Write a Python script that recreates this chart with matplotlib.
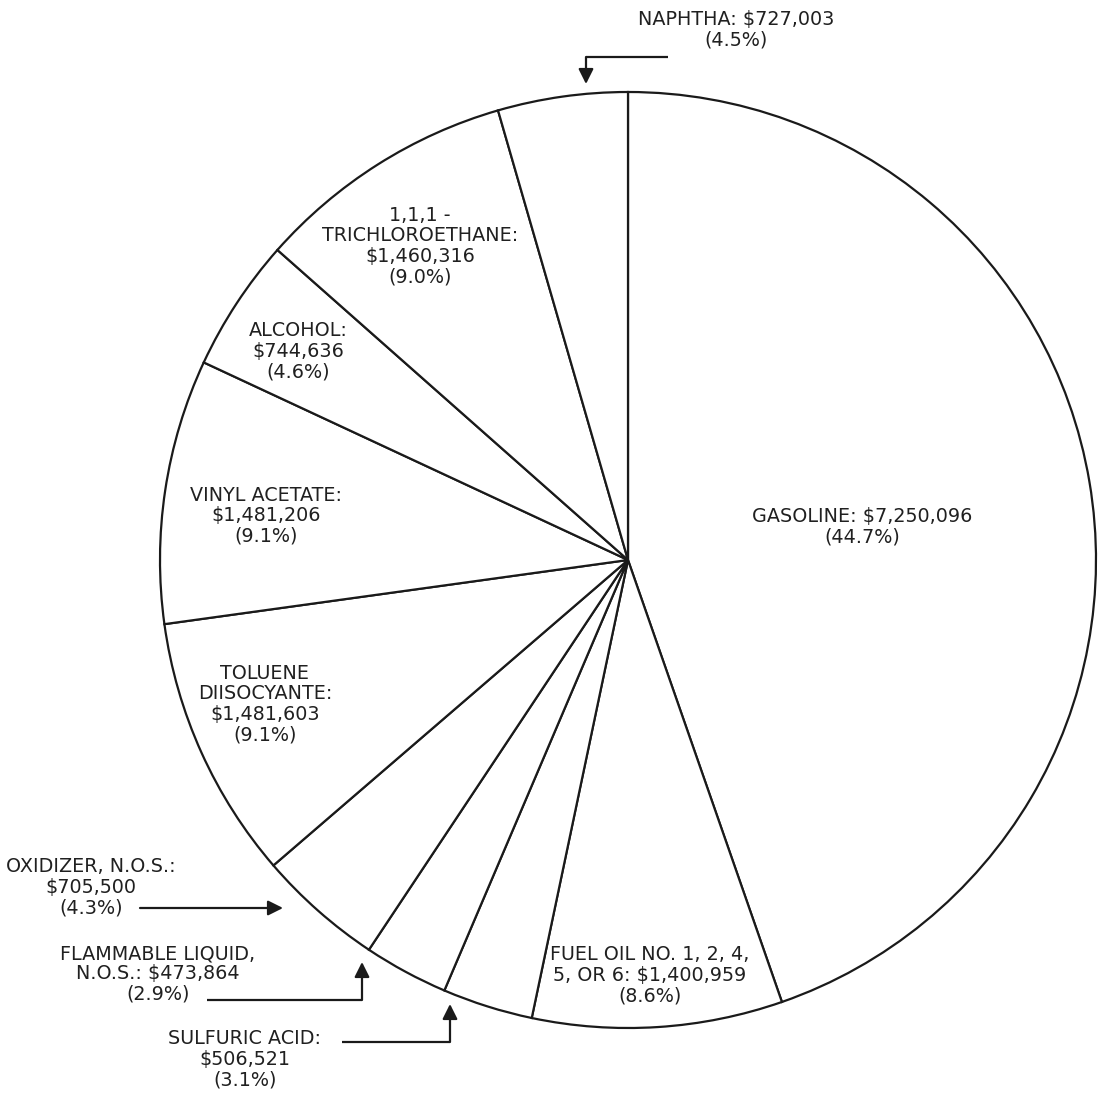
import numpy as np
import matplotlib
matplotlib.use("Agg")
import matplotlib.pyplot as plt

# hazardous material categories, clockwise from the top
names = ["GASOLINE", "FUEL OIL", "SULFURIC ACID", "FLAMMABLE LIQUID", "OXIDIZER",
         "TOLUENE DIISOCYANTE", "VINYL ACETATE", "ALCOHOL",
         "1,1,1 - TRICHLOROETHANE", "NAPHTHA"]
values = [7250096, 1400959, 506521, 473864, 705500,
          1481603, 1481206, 744636, 1460316, 727003]
pcts = ["44.7%", "8.6%", "3.1%", "2.9%", "4.3%", "9.1%", "9.1%", "4.6%", "9.0%", "4.5%"]
templates = ["GASOLINE: {v}\n({p})",
             "FUEL OIL NO. 1, 2, 4,\n5, OR 6: {v}\n({p})",
             "SULFURIC ACID:\n{v}\n({p})",
             "FLAMMABLE LIQUID,\nN.O.S.: {v}\n({p})",
             "OXIDIZER, N.O.S.:\n{v}\n({p})",
             "TOLUENE\nDIISOCYANTE:\n{v}\n({p})",
             "VINYL ACETATE:\n{v}\n({p})",
             "ALCOHOL:\n{v}\n({p})",
             "1,1,1 -\nTRICHLOROETHANE:\n{v}\n({p})",
             "NAPHTHA: {v}\n({p})"]

# label centres in pixels (x, y from top)
label_pos = [(862, 527), (650, 975), (245, 1059), (158, 974), (91, 887),
             (265, 704), (266, 516), (298, 351), (420, 246), (736, 30)]

W, H = 1099, 1093
fig = plt.figure(figsize=(W / 100, H / 100), dpi=100)
ax = fig.add_axes([0, 0, 1, 1])

# y axis is flipped, so start at -90 and go counterclockwise in data = clockwise on screen
ax.pie(values, center=(628, 560), radius=468, startangle=-90, counterclock=True,
       colors=["white"] * len(values),
       wedgeprops=dict(edgecolor="#1a1a1a", linewidth=1.6))

ax.set_xlim(0, W)
ax.set_ylim(H, 0)
ax.set_aspect("auto")
ax.axis("off")

for t, v, p, (x, y) in zip(templates, values, pcts, label_pos):
    ax.text(x, y, t.format(v="${:,}".format(v), p=p), ha="center", va="center",
            fontsize=13.8, family="DejaVu Sans", linespacing=1.1, color="#202020")

# callout arrows for the small slices
arrows = [
    [(668, 57), (586, 57), (586, 84)],
    [(140, 908), (283, 908)],
    [(207, 1000), (362, 1000), (362, 962)],
    [(342, 1042), (450, 1042), (450, 1004)],
]
for pts in arrows:
    xs = [q[0] for q in pts]
    ys = [q[1] for q in pts]
    ax.plot(xs[:-1], ys[:-1], color="#1a1a1a", lw=1.6, solid_capstyle="butt")
    ax.annotate("", xy=pts[-1], xytext=pts[-2],
                arrowprops=dict(arrowstyle="-|>,head_length=0.9,head_width=0.45",
                                color="#1a1a1a", lw=1.6, shrinkA=0, shrinkB=0))

fig.savefig("out.png", dpi=100, facecolor="white")
